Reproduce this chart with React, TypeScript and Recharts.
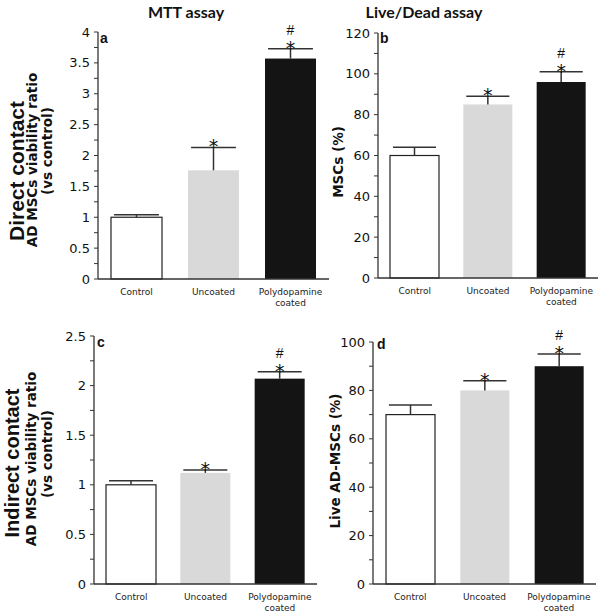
import React from 'react';
import { BarChart, Bar, XAxis, YAxis } from 'recharts';

const categories = ['Control', 'Uncoated', 'Polydopamine coated'];
const barFills = ['#ffffff', '#d9d9d9', '#141414'];
const barStrokes = ['#222222', 'none', 'none'];
const sigMarks = ['', '*', '*#'];

// a: MTT, direct contact
const mttDirect = [1.0, 1.76, 3.57];
const mttDirectErr = [0.04, 0.37, 0.16];
const mttDirectTicks = [0, 0.25, 0.5, 0.75, 1, 1.25, 1.5, 1.75, 2, 2.25, 2.5, 2.75, 3, 3.25, 3.5, 3.75, 4];

// b: Live/Dead, direct contact
const liveDirect = [60, 85, 96];
const liveDirectErr = [4, 4, 5];
const liveDirectTicks = [0, 10, 20, 30, 40, 50, 60, 70, 80, 90, 100, 110, 120];

// c: MTT, indirect contact
const mttIndirect = [1.0, 1.12, 2.07];
const mttIndirectErr = [0.04, 0.03, 0.07];
const mttIndirectTicks = [0, 0.25, 0.5, 0.75, 1, 1.25, 1.5, 1.75, 2, 2.25, 2.5];

// d: Live/Dead, indirect contact
const liveIndirect = [70, 80, 90];
const liveIndirectErr = [4, 4, 5];
const liveIndirectTicks = [0, 10, 20, 30, 40, 50, 60, 70, 80, 90, 100];

function buildRows(values: number[], errs: number[]) {
  return categories.map((name, i) => ({
    name,
    value: values[i],
    err: errs[i],
    fill: barFills[i],
    stroke: barStrokes[i],
    mark: sigMarks[i],
  }));
}

const BarWithError = (props: any) => {
  const { x, y, width, height, payload } = props;
  const perUnit = payload.value ? height / payload.value : 0;
  const errTop = y - payload.err * perUnit;
  const cx = x + width / 2;
  const capHalf = (width * 0.88) / 2;
  const hasStar = payload.mark.includes('*');
  const hasHash = payload.mark.includes('#');
  return (
    <g>
      <rect
        x={x}
        y={y}
        width={width}
        height={height}
        fill={payload.fill}
        stroke={payload.stroke}
        strokeWidth={payload.stroke === 'none' ? 0 : 1.2}
      />
      <line x1={cx} x2={cx} y1={y} y2={errTop} stroke="#333" strokeWidth={1.5} />
      <line x1={cx - capHalf} x2={cx + capHalf} y1={errTop} y2={errTop} stroke="#333" strokeWidth={1.5} />
      {hasStar && (
        <text x={cx} y={errTop + 6} textAnchor="middle" fontFamily="DejaVu Sans" fontSize={19} fill="#111">
          *
        </text>
      )}
      {hasHash && (
        <text x={cx} y={errTop - 14} textAnchor="middle" fontFamily="Liberation Sans" fontSize={14} fill="#111">
          #
        </text>
      )}
    </g>
  );
};

const XTick = (props: any) => {
  const { x, y, payload } = props;
  const lines = payload.value === 'Polydopamine coated' ? ['Polydopamine', 'coated'] : [payload.value];
  return (
    <text x={x} y={y} textAnchor="middle" fontFamily="DejaVu Sans" fontSize={9} fill="#222">
      {lines.map((l: string, i: number) => (
        <tspan key={i} x={x} dy={i === 0 ? 16 : 11}>
          {l}
        </tspan>
      ))}
    </text>
  );
};

const makeYTick = (major: number) => (props: any) => {
  const { x, y, payload } = props;
  const v = payload.value;
  const r = v / major;
  if (Math.abs(r - Math.round(r)) > 1e-6) return <g />;
  return (
    <text x={x} y={y} textAnchor="end" dominantBaseline="central" fontFamily="DejaVu Sans" fontSize={13} fill="#111">
      {String(v)}
    </text>
  );
};

type PanelProps = {
  left: number;
  top: number;
  width: number;
  height: number;
  marginTop: number;
  marginRight: number;
  yWidth: number;
  xHeight: number;
  domain: [number, number];
  ticks: number[];
  major: number;
  values: number[];
  errs: number[];
  barSize: number;
};

function Panel(p: PanelProps) {
  const rows = buildRows(p.values, p.errs);
  return (
    <div style={{ position: 'absolute', left: p.left, top: p.top, width: p.width, height: p.height }}>
      <BarChart
        width={p.width}
        height={p.height}
        data={rows}
        margin={{ top: p.marginTop, right: p.marginRight, bottom: 0, left: 0 }}
        barCategoryGap={0}
      >
        <XAxis
          dataKey="name"
          height={p.xHeight}
          tickLine={false}
          tickSize={0}
          tickMargin={0}
          interval={0}
          axisLine={{ stroke: '#333', strokeWidth: 1.3 }}
          tick={<XTick />}
        />
        <YAxis
          width={p.yWidth}
          domain={p.domain}
          ticks={p.ticks}
          interval={0}
          tickSize={4}
          tickMargin={4}
          tickLine={{ stroke: '#333', strokeWidth: 1 }}
          axisLine={{ stroke: '#333', strokeWidth: 1.3 }}
          tick={makeYTick(p.major)}
        />
        <Bar dataKey="value" barSize={p.barSize} isAnimationActive={false} shape={<BarWithError />} />
      </BarChart>
    </div>
  );
}

const boldSans = 'Liberation Sans';
const labelFont = 'DejaVu Sans';

export default function App() {
  return (
    <div style={{ position: 'absolute', left: 0, top: 0, width: 600, height: 614, background: '#fff', overflow: 'hidden' }}>
      <Panel left={0} top={0} width={340} height={310} marginTop={32} marginRight={11} yWidth={98} xHeight={31}
        domain={[0, 4]} ticks={mttDirectTicks} major={0.5} values={mttDirect} errs={mttDirectErr} barSize={51} />
      <Panel left={300} top={0} width={300} height={310} marginTop={33} marginRight={2} yWidth={78} xHeight={32}
        domain={[0, 120]} ticks={liveDirectTicks} major={20} values={liveDirect} errs={liveDirectErr} barSize={49} />
      <Panel left={0} top={307} width={330} height={307} marginTop={29} marginRight={13} yWidth={94} xHeight={30}
        domain={[0, 2.5]} ticks={mttIndirectTicks} major={0.5} values={mttIndirect} errs={mttIndirectErr} barSize={50} />
      <Panel left={300} top={307} width={300} height={307} marginTop={35} marginRight={4} yWidth={73} xHeight={30}
        domain={[0, 100]} ticks={liveIndirectTicks} major={20} values={liveIndirect} errs={liveIndirectErr} barSize={49} />

      <svg width={600} height={614} style={{ position: 'absolute', left: 0, top: 0, pointerEvents: 'none' }}>
        <text x={186} y={18} textAnchor="middle" fontFamily="Lato" fontWeight="bold" fontSize={16} fill="#111">MTT assay</text>
        <text x={424} y={18} textAnchor="middle" fontFamily="Lato" fontWeight="bold" fontSize={16} fill="#111">Live/Dead assay</text>

        <text x={100} y={43} fontFamily={boldSans} fontWeight="bold" fontSize={14} fill="#111">a</text>
        <text x={380} y={43} fontFamily={boldSans} fontWeight="bold" fontSize={14} fill="#111">b</text>
        <text x={97} y={347} fontFamily={boldSans} fontWeight="bold" fontSize={14} fill="#111">c</text>
        <text x={377} y={349} fontFamily={boldSans} fontWeight="bold" fontSize={14} fill="#111">d</text>

        <text transform="translate(16,171) rotate(-90)" textAnchor="middle" dominantBaseline="central" fontFamily={boldSans} fontWeight="bold" fontSize={21} fill="#111">Direct contact</text>
        <text transform="translate(32,160) rotate(-90)" textAnchor="middle" dominantBaseline="central" fontFamily={labelFont} fontWeight="bold" fontSize={13.5} fill="#111">AD MSCs viability ratio</text>
        <text transform="translate(47,151) rotate(-90)" textAnchor="middle" dominantBaseline="central" fontFamily={labelFont} fontWeight="bold" fontSize={13.5} fill="#111">(vs control)</text>
        <text transform="translate(338,162) rotate(-90)" textAnchor="middle" dominantBaseline="central" fontFamily={labelFont} fontWeight="bold" fontSize={13.5} fill="#111">MSCs (%)</text>

        <text transform="translate(12,463) rotate(-90)" textAnchor="middle" dominantBaseline="central" fontFamily={boldSans} fontWeight="bold" fontSize={20} fill="#111">Indirect contact</text>
        <text transform="translate(31,459) rotate(-90)" textAnchor="middle" dominantBaseline="central" fontFamily={labelFont} fontWeight="bold" fontSize={13.5} fill="#111">AD MSCs viability ratio</text>
        <text transform="translate(47,454) rotate(-90)" textAnchor="middle" dominantBaseline="central" fontFamily={labelFont} fontWeight="bold" fontSize={13.5} fill="#111">(vs control)</text>
        <text transform="translate(335,461) rotate(-90)" textAnchor="middle" dominantBaseline="central" fontFamily={labelFont} fontWeight="bold" fontSize={13.5} fill="#111">Live AD-MSCs (%)</text>
      </svg>
    </div>
  );
}
